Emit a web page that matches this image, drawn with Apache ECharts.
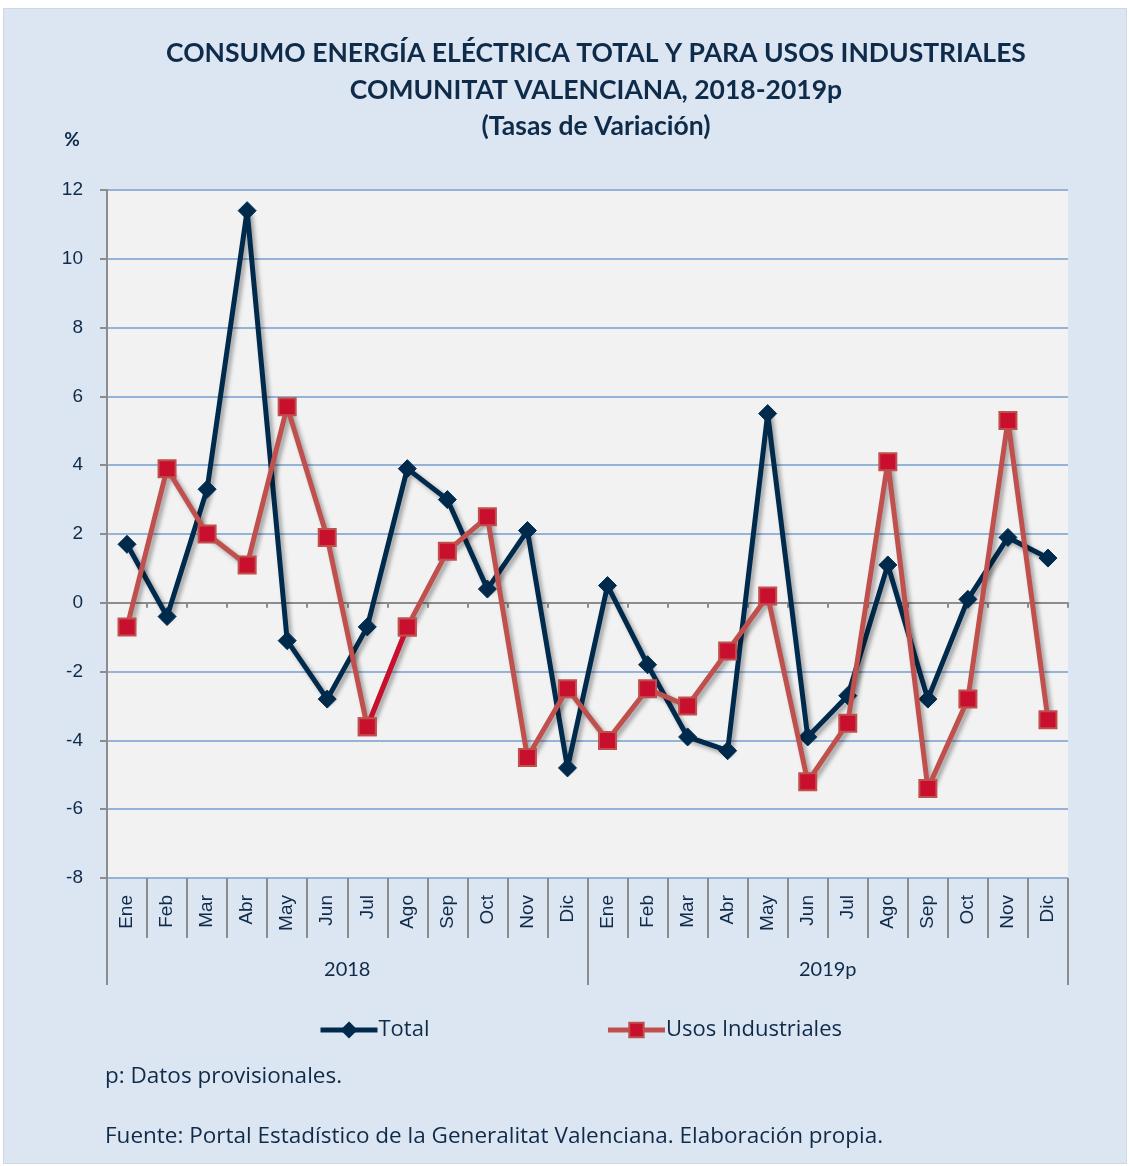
<!DOCTYPE html>
<html><head><meta charset="utf-8">
<script src="https://cdn.jsdelivr.net/npm/echarts@6/dist/echarts.min.js"></script>
<style>
html,body{margin:0;padding:0;background:#ffffff;}
#frame{position:absolute;left:3px;top:8px;width:1124px;height:1156px;background:#dce6f2;border:1px solid #d0d7e2;box-sizing:border-box;}
#chart{position:absolute;left:0;top:0;width:1130px;height:1166px;}
</style></head>
<body>
<div id="frame"></div>
<div id="chart"></div>
<script>
const months = ['Ene','Feb','Mar','Abr','May','Jun','Jul','Ago','Sep','Oct','Nov','Dic',
                'Ene','Feb','Mar','Abr','May','Jun','Jul','Ago','Sep','Oct','Nov','Dic'];
const years = ['2018','2019p'];
const total = [1.7,-0.4,3.3,11.4,-1.1,-2.8,-0.7,3.9,3.0,0.4,2.1,-4.8,
               0.5,-1.8,-3.9,-4.3,5.5,-3.9,-2.7,1.1,-2.8,0.1,1.9,1.3];
const industriales = [-0.7,3.9,2.0,1.1,5.7,1.9,-3.6,-0.7,1.5,2.5,-4.5,-2.5,
                      -4.0,-2.5,-3.0,-1.4,0.2,-5.2,-3.5,4.1,-5.4,-2.8,5.3,-3.4];
const yTicks = [-8,-6,-4,-2,0,2,4,6,8,10,12];
const titleLines = ['CONSUMO ENERGÍA ELÉCTRICA TOTAL Y PARA USOS INDUSTRIALES',
                    'COMUNITAT VALENCIANA, 2018-2019p','(Tasas de Variación)'];
const notes = ['p: Datos provisionales.',
               'Fuente: Portal Estadístico de la Generalitat Valenciana. Elaboración propia.'];

// highlighted segment (Jul -> Ago 2018) drawn in brighter red
const segment = industriales.map((v, i) => (i === 6 || i === 7) ? v : null);

const navy = '#002a4c';
const red = '#c0504d';
const txt = '#0f2b4a';
const shadow = {shadowColor:'rgba(0,0,0,0.35)', shadowBlur:4, shadowOffsetX:3, shadowOffsetY:3};

const chart = echarts.init(document.getElementById('chart'), null, {renderer:'canvas'});
chart.setOption({
  backgroundColor:'transparent',
  animation:false,
  textStyle:{fontFamily:'Lato'},
  grid:{left:107, top:190, right:62, bottom:288, show:true, backgroundColor:'#f2f2f2', borderWidth:0, containLabel:false},
  graphic:[
    {type:'text', x:596, y:53, style:{text:titleLines[0], font:'bold 26.5px Lato', fill:txt, textAlign:'center', textVerticalAlign:'middle'}},
    {type:'text', x:596, y:90, style:{text:titleLines[1], font:'bold 26.5px Lato', fill:txt, textAlign:'center', textVerticalAlign:'middle'}},
    {type:'text', x:596, y:126, style:{text:titleLines[2], font:'bold 26.5px Lato', fill:txt, textAlign:'center', textVerticalAlign:'middle'}},
    {type:'text', x:72, y:140, style:{text:'%', font:'bold 19px Lato', fill:txt, textAlign:'center', textVerticalAlign:'middle'}},
    {type:'text', x:105, y:1077, style:{text:notes[0], font:'22.5px "Open Sans"', fill:txt, textAlign:'left', textVerticalAlign:'middle'}},
    {type:'text', x:105, y:1137, style:{text:notes[1], font:'22.5px "Open Sans"', fill:txt, textAlign:'left', textVerticalAlign:'middle'}}
  ],
  legend:{
    data:['Total','Usos Industriales'],
    left:313, top:1014, itemWidth:57, itemHeight:18, itemGap:176,
    lineStyle:{width:5},
    textStyle:{fontSize:22, color:txt, fontFamily:'Open Sans', padding:[0,0,0,-4]}
  },
  xAxis:[
    {type:'category', data:months, position:'bottom', boundaryGap:true,
     axisLine:{show:false, onZero:false},
     axisTick:{show:true, length:60, interval:0, lineStyle:{color:'#8c8c8c', width:2}},
     axisLabel:{rotate:90, interval:0, margin:17, fontSize:19, color:txt, fontFamily:'Liberation Sans'},
     splitLine:{show:false}},
    {type:'category', data:years, position:'bottom', boundaryGap:true,
     axisLine:{show:false, onZero:false},
     axisTick:{show:true, length:107, interval:0, lineStyle:{color:'#8c8c8c', width:2}},
     axisLabel:{margin:82, fontSize:20, color:txt, fontFamily:'Lato'},
     splitLine:{show:false}},
    {type:'category', data:months, position:'bottom', boundaryGap:true,
     axisLine:{show:true, onZero:true, lineStyle:{color:'#8c8c8c', width:2}},
     axisTick:{show:true, length:5, interval:0, lineStyle:{color:'#8c8c8c', width:2}},
     axisLabel:{show:false},
     splitLine:{show:false}}
  ],
  yAxis:{type:'value', min:yTicks[0], max:yTicks[yTicks.length-1], interval:2,
    axisLine:{show:true, lineStyle:{color:'#8c8c8c', width:2}},
    axisTick:{show:true, length:7, lineStyle:{color:'#8c8c8c', width:2}},
    axisLabel:{margin:24, fontSize:19, color:txt, fontFamily:'Liberation Sans'},
    splitLine:{show:true, lineStyle:{color:'#95b3d7', width:2}}},
  series:[
    {name:'Total', type:'line', xAxisIndex:0, data:total, symbol:'diamond', symbolSize:18,
     lineStyle:Object.assign({color:navy, width:5}, shadow),
     itemStyle:{color:navy, borderColor:navy, borderWidth:1}, z:3},
    {name:'Usos Industriales', type:'line', xAxisIndex:0, data:industriales, symbol:'rect', symbolSize:17,
     lineStyle:Object.assign({color:red, width:5}, shadow),
     itemStyle:{color:'#c8102e', borderColor:red, borderWidth:2}, z:4},
    {name:'_seg', type:'line', xAxisIndex:0, data:segment, symbol:'rect', symbolSize:17, connectNulls:false,
     lineStyle:{color:'#c8102e', width:5},
     itemStyle:{color:'#c8102e', borderColor:red, borderWidth:2}, z:5}
  ]
});
</script>
</body></html>
